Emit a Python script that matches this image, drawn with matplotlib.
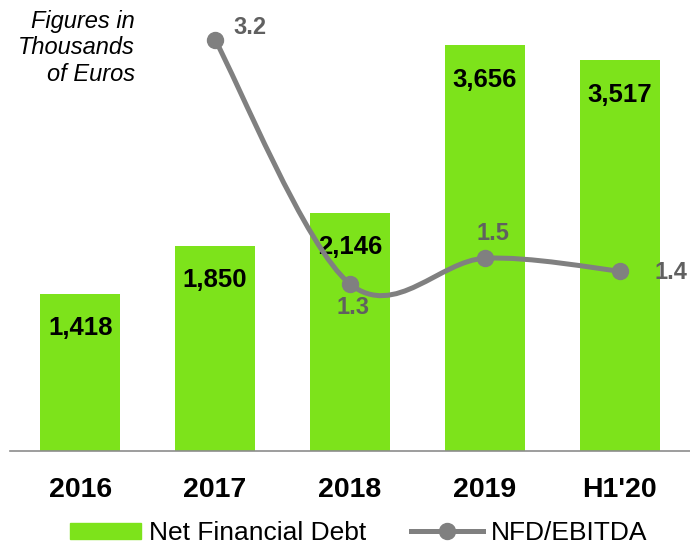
import numpy as np
import matplotlib
matplotlib.use('Agg')
import matplotlib.pyplot as plt
from matplotlib.path import Path
from matplotlib.patches import PathPatch, Patch
from matplotlib.lines import Line2D

# data
periods = ['2016', '2017', '2018', '2019', "H1'20"]
nfd = [1418, 1850, 2146, 3656, 3517]
ratio_periods = [1, 2, 3, 4]          # index into periods, 2016 has no ratio
ratio = [3.2, 1.3, 1.5, 1.4]

green = '#7de31b'
grey = '#808080'
font = ['Liberation Sans', 'Arial', 'DejaVu Sans']

fig = plt.figure(figsize=(6.9, 5.44), dpi=100)
ax = fig.add_axes([10 / 690, 1 - 451 / 544, 680 / 690, 451 / 544])
x = np.arange(len(periods))
ax.bar(x, nfd, width=0.59, color=green, zorder=1)
ax.set_xlim(-0.52, 4.52)
ax.set_ylim(0, 4061)

for xi, v in zip(x, nfd):
    ax.annotate(f'{v:,}', (xi, v), xytext=(0, -25), textcoords='offset points',
                ha='center', va='center', fontsize=18.5, fontweight='bold',
                family=font, color='black', zorder=5)

for s in ['top', 'left', 'right']:
    ax.spines[s].set_visible(False)
ax.spines['bottom'].set_color('#8c8c8c')
ax.spines['bottom'].set_linewidth(1.2)
ax.set_yticks([])
ax.set_xticks(x)
ax.set_xticklabels(periods, fontsize=20.5, fontweight='bold', family=font)
ax.tick_params(axis='x', length=0, pad=19)

# secondary axis for the ratio
ax2 = ax.twinx()
ax2.set_ylim(0, 3.51)
ax2.axis('off')

# smoothed line (Catmull-Rom as cubic bezier)
pts = np.column_stack([ratio_periods, ratio]).astype(float)
verts = [pts[0]]
codes = [Path.MOVETO]
n = len(pts)
for i in range(n - 1):
    p0 = pts[i - 1] if i > 0 else pts[i]
    p1 = pts[i]
    p2 = pts[i + 1]
    p3 = pts[i + 2] if i + 2 < n else pts[i + 1]
    c1 = p1 + (p2 - p0) / 6
    c2 = p2 - (p3 - p1) / 6
    verts += [c1, c2, p2]
    codes += [Path.CURVE4] * 3
ax2.add_patch(PathPatch(Path(verts, codes), facecolor='none', edgecolor=grey,
                        lw=3.6, zorder=3, capstyle='round'))
ax2.plot(ratio_periods, ratio, 'o', color=grey, ms=11.5, zorder=4)

offsets = [(13, 9, 'left'), (2, -17, 'center'), (6, 18, 'center'), (25, -1, 'left')]
for xi, v, (dx, dy, ha) in zip(ratio_periods, ratio, offsets):
    ax2.annotate(f'{v:.1f}', (xi, v), xytext=(dx, dy), textcoords='offset points',
                 ha=ha, va='center', fontsize=17, fontweight='bold',
                 family=font, color='#606060', annotation_clip=False)

fig.text(135 / 690, 1 - 48 / 544, 'Figures in\nThousands\nof Euros', ha='right',
         va='center', fontsize=17, style='italic', family=font,
         linespacing=1.2)

handles = [Patch(color=green, label='Net Financial Debt'),
           Line2D([], [], color=grey, lw=3.6, marker='o', ms=11.5,
                  label='NFD/EBITDA')]
fig.legend(handles=handles, loc='center left', bbox_to_anchor=(70 / 690, 1 - 533 / 544),
           ncol=2, frameon=False, prop={'family': font, 'size': 19},
           handlelength=2.7, handleheight=0.55, handletextpad=0.3,
           columnspacing=1.7, borderpad=0, borderaxespad=0)

fig.savefig('out.png', dpi=100)
